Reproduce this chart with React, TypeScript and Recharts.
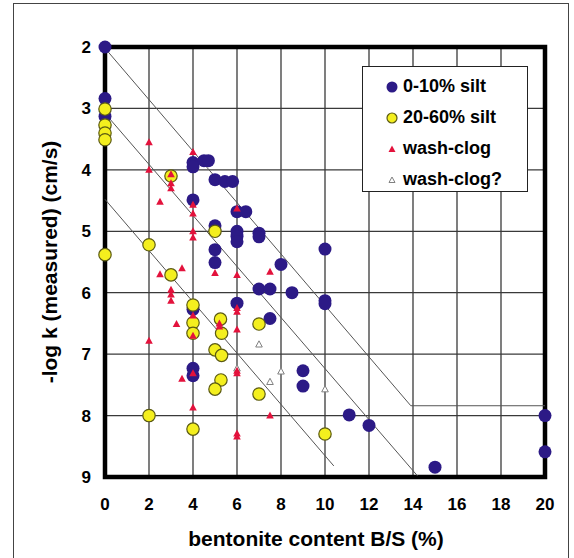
import { ScatterChart, Scatter, XAxis, YAxis, CartesianGrid, ReferenceArea, Legend, Label } from 'recharts';

const xTicks = [0, 2, 4, 6, 8, 10, 12, 14, 16, 18, 20];
const yTicks = [2, 3, 4, 5, 6, 7, 8, 9];

type Pt = { x: number; y: number };

// 0-10% silt
const siltLow: Pt[] = [
  { x: 0, y: 2.0 }, { x: 0, y: 2.84 }, { x: 0, y: 3.13 },
  { x: 4, y: 3.88 }, { x: 4, y: 3.95 }, { x: 4.5, y: 3.85 }, { x: 4.7, y: 3.85 },
  { x: 5, y: 4.16 }, { x: 5.45, y: 4.19 }, { x: 5.8, y: 4.19 },
  { x: 4, y: 4.49 }, { x: 6, y: 4.68 }, { x: 6.4, y: 4.68 },
  { x: 5, y: 4.91 }, { x: 6, y: 5.0 }, { x: 6, y: 5.08 }, { x: 6, y: 5.17 },
  { x: 7, y: 5.03 }, { x: 7, y: 5.09 }, { x: 5, y: 5.3 }, { x: 5, y: 5.51 },
  { x: 10, y: 5.29 }, { x: 8, y: 5.54 }, { x: 7, y: 5.94 }, { x: 7.5, y: 5.94 },
  { x: 8.5, y: 6.0 }, { x: 10, y: 6.13 }, { x: 10, y: 6.18 }, { x: 6, y: 6.17 },
  { x: 4, y: 6.27 }, { x: 7.5, y: 6.42 }, { x: 4, y: 7.23 }, { x: 4, y: 7.35 },
  { x: 9, y: 7.27 }, { x: 9, y: 7.52 }, { x: 11.1, y: 7.99 }, { x: 12, y: 8.16 },
  { x: 15, y: 8.84 }, { x: 20, y: 8.0 }, { x: 20, y: 8.59 },
];

// 20-60% silt
const siltHigh: Pt[] = [
  { x: 0, y: 3.01 }, { x: 0, y: 3.27 }, { x: 0, y: 3.4 }, { x: 0, y: 3.51 },
  { x: 3, y: 4.1 }, { x: 0, y: 5.38 }, { x: 2, y: 5.22 }, { x: 3, y: 5.71 },
  { x: 5, y: 5.0 }, { x: 4, y: 6.2 }, { x: 4, y: 6.49 }, { x: 4, y: 6.66 },
  { x: 5.25, y: 6.43 }, { x: 5.3, y: 6.66 }, { x: 7, y: 6.51 }, { x: 5, y: 6.93 },
  { x: 5.3, y: 7.02 }, { x: 5.27, y: 7.42 }, { x: 5, y: 7.57 }, { x: 7, y: 7.65 },
  { x: 2, y: 8.0 }, { x: 4, y: 8.22 }, { x: 10, y: 8.3 },
];

const washClog: Pt[] = [
  { x: 2, y: 3.55 }, { x: 2, y: 4.0 }, { x: 4, y: 3.71 }, { x: 3, y: 4.07 },
  { x: 3, y: 4.22 }, { x: 3, y: 4.3 }, { x: 2.5, y: 4.52 }, { x: 4, y: 4.57 },
  { x: 4, y: 4.71 }, { x: 6, y: 4.63 }, { x: 4, y: 5.0 }, { x: 4, y: 5.1 },
  { x: 3.5, y: 5.6 }, { x: 2.5, y: 5.7 }, { x: 5, y: 5.68 }, { x: 6, y: 5.71 },
  { x: 7.5, y: 5.66 }, { x: 3, y: 5.95 }, { x: 3, y: 6.03 }, { x: 3, y: 6.13 },
  { x: 4, y: 6.37 }, { x: 6, y: 6.25 }, { x: 6, y: 6.31 }, { x: 5.2, y: 6.5 },
  { x: 5.2, y: 6.55 }, { x: 3.25, y: 6.51 }, { x: 6, y: 6.6 }, { x: 4, y: 6.7 },
  { x: 2, y: 6.78 }, { x: 3.5, y: 7.4 }, { x: 4, y: 7.31 }, { x: 6, y: 7.27 },
  { x: 6, y: 7.31 }, { x: 4, y: 7.87 }, { x: 7.5, y: 8.0 }, { x: 6, y: 8.29 },
  { x: 6, y: 8.34 },
];

const washClogQ: Pt[] = [
  { x: 7, y: 6.84 }, { x: 6, y: 7.23 }, { x: 7.5, y: 7.45 }, { x: 8, y: 7.28 }, { x: 10, y: 7.57 },
];

// hand-drawn bounding lines
const lineUpper: Pt[] = [{ x: 0, y: 2.02 }, { x: 13.9, y: 7.84 }, { x: 20, y: 7.84 }];
const lineMiddle: Pt[] = [{ x: 0, y: 3.08 }, { x: 14.2, y: 8.98 }];
const lineLower: Pt[] = [{ x: 0, y: 4.48 }, { x: 10.4, y: 8.82 }];

const FONT = '"Liberation Sans", Arial, sans-serif';
const BLUE = '#2c1a86';
const YELLOW = '#f4ef1e';
const YELLOW_EDGE = '#5b5a12';
const RED = '#e3123c';
const GREY = '#808080';

const BlueDot = (p: any) => <circle cx={p.cx} cy={p.cy} r={6.5} fill={BLUE} />;
const YellowDot = (p: any) => (
  <circle cx={p.cx} cy={p.cy} r={6.2} fill={YELLOW} stroke={YELLOW_EDGE} strokeWidth={1.2} />
);
const RedTri = (p: any) => (
  <path d={`M${p.cx},${p.cy - 4} L${p.cx + 3.8},${p.cy + 3} L${p.cx - 3.8},${p.cy + 3}Z`} fill={RED} />
);
const GreyTri = (p: any) => (
  <path
    d={`M${p.cx},${p.cy - 3.5} L${p.cx + 3.3},${p.cy + 2.7} L${p.cx - 3.3},${p.cy + 2.7}Z`}
    fill="#fff"
    stroke={GREY}
    strokeWidth={1}
  />
);
const NoDot = () => <g />;

const legendItems = [
  { label: '0-10% silt', kind: 'blue' },
  { label: '20-60% silt', kind: 'yellow' },
  { label: 'wash-clog', kind: 'red' },
  { label: 'wash-clog?', kind: 'grey' },
];

function LegendMarker({ kind }: { kind: string }) {
  return (
    <svg width={14} height={14} style={{ marginRight: 4 }}>
      {kind === 'blue' && <circle cx={7} cy={7} r={5.5} fill={BLUE} />}
      {kind === 'yellow' && <circle cx={7} cy={7} r={5} fill={YELLOW} stroke={YELLOW_EDGE} strokeWidth={1.2} />}
      {kind === 'red' && <path d="M7,3.5 L10.5,10 L3.5,10Z" fill={RED} />}
      {kind === 'grey' && <path d="M7,4 L10,9.5 L4,9.5Z" fill="#fff" stroke={GREY} strokeWidth={1} />}
    </svg>
  );
}

function LegendBox() {
  return (
    <div
      style={{
        boxSizing: 'border-box',
        width: 166,
        height: 126,
        background: '#fff',
        border: '1px solid #222',
        padding: '4px 0 0 22px',
        fontFamily: FONT,
        fontWeight: 700,
        fontSize: 18,
        color: '#000',
      }}
    >
      {legendItems.map((it) => (
        <div key={it.label} style={{ display: 'flex', alignItems: 'center', height: 31 }}>
          <LegendMarker kind={it.kind} />
          <span>{it.label}</span>
        </div>
      ))}
    </div>
  );
}

export default function App() {
  return (
    <div style={{ position: 'absolute', left: 0, top: 0, width: 574, height: 558, overflow: 'hidden', background: '#fff' }}>
      <div
        style={{
          position: 'absolute',
          left: 13,
          top: 3,
          width: 554,
          height: 600,
          border: '1px solid #444',
        }}
      />
      <ScatterChart
        width={574}
        height={558}
        margin={{ top: 47, right: 29, bottom: 0, left: 0 }}
        style={{ fontFamily: FONT }}
      >
        <CartesianGrid stroke="#3a3a3a" strokeWidth={1.3} />
        <XAxis
          type="number"
          dataKey="x"
          domain={[0, 20]}
          ticks={xTicks}
          height={81}
          axisLine={false}
          tickLine={false}
          tickSize={0}
          tickMargin={21}
          tick={{ fill: '#000', fontSize: 17, fontWeight: 700 }}
        >
          <Label
            value="bentonite content B/S (%)"
            position="insideBottom"
            offset={12}
            dx={-9}
            fill="#000"
            fontSize={21}
            fontWeight={700}
          />
        </XAxis>
        <YAxis
          type="number"
          dataKey="y"
          domain={[2, 9]}
          ticks={yTicks}
          reversed
          width={105}
          axisLine={false}
          tickLine={false}
          tickSize={0}
          tickMargin={14}
          tick={{ fill: '#000', fontSize: 17, fontWeight: 700 }}
        >
          <Label
            value="-log k (measured) (cm/s)"
            angle={-90}
            position="center"
            dx={-3}
            fill="#000"
            fontSize={21}
            fontWeight={700}
          />
        </YAxis>
        <ReferenceArea x1={0} x2={20} y1={2} y2={9} fill="none" stroke="#000" strokeWidth={4.5} />
        <Scatter data={lineUpper} line={{ stroke: '#555', strokeWidth: 1 }} shape={NoDot} legendType="none" isAnimationActive={false} />
        <Scatter data={lineMiddle} line={{ stroke: '#555', strokeWidth: 1 }} shape={NoDot} legendType="none" isAnimationActive={false} />
        <Scatter data={lineLower} line={{ stroke: '#555', strokeWidth: 1 }} shape={NoDot} legendType="none" isAnimationActive={false} />
        <Scatter name="wash-clog?" data={washClogQ} shape={GreyTri} isAnimationActive={false} />
        <Scatter name="0-10% silt" data={siltLow} shape={BlueDot} isAnimationActive={false} />
        <Scatter name="20-60% silt" data={siltHigh} shape={YellowDot} isAnimationActive={false} />
        <Scatter name="wash-clog" data={washClog} shape={RedTri} isAnimationActive={false} />
        <Legend
          layout="horizontal"
          verticalAlign="middle"
          align="center"
          content={() => <LegendBox />}
          wrapperStyle={{ left: 362, top: 66, width: 166, height: 126 }}
        />
      </ScatterChart>
    </div>
  );
}
